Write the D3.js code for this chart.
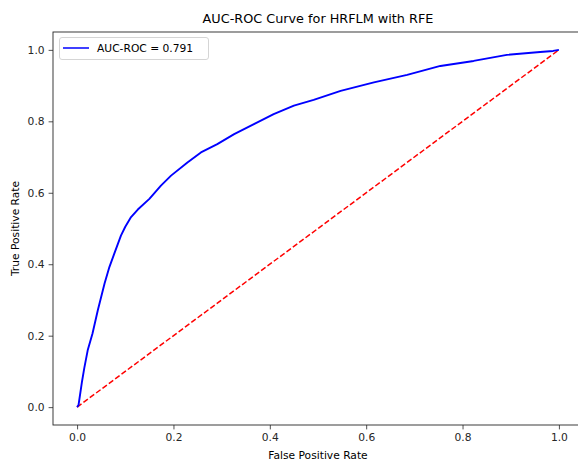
<!DOCTYPE html>
<html>
<head>
<meta charset="utf-8">
<script src="https://cdn.jsdelivr.net/npm/d3@7"></script>
<style>
  body { margin: 0; background: #fff; }
  svg { display: block; font-family: "DejaVu Sans", sans-serif; }
</style>
</head>
<body>
<div id="chart"></div>
<script>
// ROC curve for HRFLM with RFE

// values
const fpr = [0, 0.003, 0.010, 0.015, 0.022, 0.032, 0.043, 0.057, 0.067, 0.077, 0.091, 0.100, 0.112, 0.126, 0.150, 0.174, 0.195,
  0.229, 0.257, 0.291, 0.326, 0.367, 0.408, 0.450, 0.491, 0.547, 0.616, 0.685, 0.754, 0.823, 0.892, 0.961, 0.988, 1.0];
const tpr = [0, 0.006, 0.070, 0.110, 0.159, 0.206, 0.271, 0.346, 0.392, 0.429, 0.480, 0.505, 0.532, 0.553, 0.583, 0.620, 0.648,
  0.685, 0.713, 0.736, 0.764, 0.792, 0.820, 0.844, 0.860, 0.885, 0.909, 0.930, 0.955, 0.969, 0.986, 0.994, 0.997, 1.0];
const chance = [0, 1];
const ticks = [0, 0.2, 0.4, 0.6, 0.8, 1.0];
const aucLabel = "AUC-ROC = 0.791";

const W = 578, H = 461;
// plot area (right edge runs past the window, as in the picture)
const m = {left: 53, right: 583, top: 32, bottom: 425};

const svg = d3.select("#chart")
  .append("svg")
  .attr("width", W)
  .attr("height", H);

const x = d3.scaleLinear().domain([-0.05, 1.05]).range([m.left, m.right]);
const y = d3.scaleLinear().domain([-0.05, 1.05]).range([m.bottom, m.top]);

// axes
const xAxis = svg.append("g")
  .attr("transform", `translate(0, ${m.bottom})`)
  .call(d3.axisBottom(x).tickValues(ticks).tickFormat(d3.format(".1f")).tickSize(4.4).tickPadding(4));
const yAxis = svg.append("g")
  .attr("transform", `translate(${m.left}, 0)`)
  .call(d3.axisLeft(y).tickValues(ticks).tickFormat(d3.format(".1f")).tickSize(4.4).tickPadding(4));

[xAxis, yAxis].forEach(g => {
  g.attr("font-family", null);
  g.select(".domain").remove();
  g.selectAll("text").style("font-size", "10.7px").style("fill", "#262626");
  g.selectAll("line").style("stroke", "#262626").style("stroke-width", 0.8);
});

// frame
svg.append("rect")
  .attr("x", m.left)
  .attr("y", m.top)
  .attr("width", m.right - m.left)
  .attr("height", m.bottom - m.top)
  .style("fill", "none")
  .style("stroke", "#262626")
  .style("stroke-width", 0.9);

// chance line
svg.append("path")
  .datum(chance)
  .attr("d", d3.line().x(d => x(d)).y(d => y(d)))
  .style("fill", "none")
  .style("stroke", "#ff0000")
  .style("stroke-width", 1.5)
  .style("stroke-dasharray", "5.5,2.4");

// roc curve
const pts = fpr.map((f, i) => [f, tpr[i]]);
svg.append("path")
  .datum(pts)
  .attr("d", d3.line().x(d => x(d[0])).y(d => y(d[1])))
  .style("fill", "none")
  .style("stroke", "#0000ff")
  .style("stroke-width", 1.9)
  .style("stroke-linejoin", "round");

// title
svg.append("text")
  .attr("x", (m.left + m.right) / 2)
  .attr("y", 23)
  .attr("text-anchor", "middle")
  .style("font-size", "12.8px")
  .style("fill", "#000")
  .text("AUC-ROC Curve for HRFLM with RFE");

// axis labels
svg.append("text")
  .attr("x", (m.left + m.right) / 2)
  .attr("y", 459)
  .attr("text-anchor", "middle")
  .style("font-size", "10.7px")
  .style("fill", "#000")
  .text("False Positive Rate");

svg.append("text")
  .attr("transform", `translate(19, ${(m.top + m.bottom) / 2}) rotate(-90)`)
  .attr("text-anchor", "middle")
  .style("font-size", "10.7px")
  .style("fill", "#000")
  .text("True Positive Rate");

// legend
const lg = svg.append("g");
lg.append("rect")
  .attr("x", 59.5)
  .attr("y", 37.5)
  .attr("width", 149)
  .attr("height", 22)
  .attr("rx", 2.5)
  .style("fill", "#fff")
  .style("fill-opacity", 0.8)
  .style("stroke", "#d0d0d0")
  .style("stroke-width", 0.9);
lg.append("line")
  .attr("x1", 63).attr("x2", 89)
  .attr("y1", 48).attr("y2", 48)
  .style("stroke", "#0000ff")
  .style("stroke-width", 1.5);
lg.append("text")
  .attr("x", 97)
  .attr("y", 52)
  .style("font-size", "10.7px")
  .style("fill", "#000")
  .text(aucLabel);
</script>
</body>
</html>
